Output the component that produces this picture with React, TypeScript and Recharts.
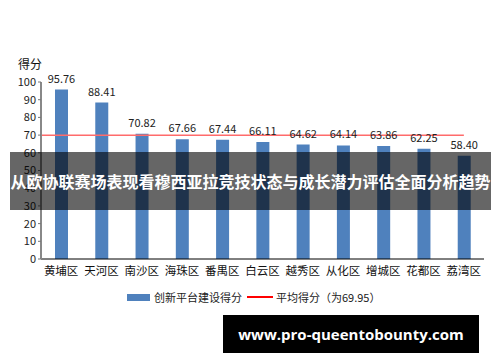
import React from 'react';
import { BarChart, Bar, XAxis, YAxis, ReferenceLine, LabelList } from 'recharts';

const districts = ['黄埔区', '天河区', '南沙区', '海珠区', '番禺区', '白云区', '越秀区', '从化区', '增城区', '花都区', '荔湾区'];
const scores = [95.76, 88.41, 70.82, 67.66, 67.44, 66.11, 64.62, 64.14, 63.86, 62.25, 58.4];
const average = 69.95;
const yTicks = [0, 10, 20, 30, 40, 50, 60, 70, 80, 90, 100];

const font = '"Noto Sans CJK SC", "Noto Sans", sans-serif';
const W = 500;
const H = 362;
const plotLeft = 41;
const plotRight = 16;

export default function App() {
  const data = districts.map((name, i) => ({ name, score: scores[i] }));
  const halfBand = (W - plotLeft - plotRight) / districts.length / 2;

  return (
    <div style={{ position: 'absolute', top: 0, left: 0, width: W, height: H, background: '#fff', fontFamily: font, overflow: 'hidden' }}>
      <BarChart width={W} height={H} data={data} margin={{ top: 82, right: plotRight, left: 0, bottom: 73 }}>
        <XAxis
          dataKey="name"
          tickLine={false}
          axisLine={{ stroke: '#000', strokeWidth: 1 }}
          tick={{ fontSize: 11.5, fill: '#111', fontFamily: font }}
          interval={0}
        />
        <YAxis
          width={plotLeft}
          domain={[0, 100]}
          ticks={yTicks}
          interval={0}
          tickSize={3}
          tickLine={{ stroke: '#777' }}
          axisLine={{ stroke: '#888', strokeWidth: 2 }}
          tick={{ fontSize: 11, fill: '#222', fontFamily: font }}
        />
        <ReferenceLine
          y={average}
          stroke="#ff6b6b"
          strokeWidth={1.5}
          shape={(p: any) => (
            <line x1={p.x1} y1={p.y1} x2={p.x2 - halfBand} y2={p.y2} stroke="#ff6b6b" strokeWidth={1.5} />
          )}
        />
        <Bar dataKey="score" fill="#4f81bd" barSize={13} isAnimationActive={false}>
          <LabelList
            dataKey="score"
            position="top"
            offset={7}
            formatter={(v: any) => Number(v).toFixed(2)}
            style={{ fontSize: 11, fill: '#222', fontFamily: font }}
          />
        </Bar>
        <text x={18} y={69} fontSize={12} fill="#111" fontFamily={font}>得分</text>
      </BarChart>

      {/* legend */}
      <div style={{ position: 'absolute', top: 289, left: 127, display: 'flex', alignItems: 'center', fontSize: 11, color: '#222', whiteSpace: 'nowrap' }}>
        <span style={{ display: 'inline-block', width: 23, height: 7, background: '#4f81bd', marginRight: 4 }} />
        <span>创新平台建设得分</span>
        <span style={{ display: 'inline-block', width: 26, height: 1.5, background: '#ff0000', margin: '0 3px 0 5px' }} />
        <span>平均得分（为69.95）</span>
      </div>

      {/* overlay banner */}
      <div style={{ position: 'absolute', top: 152, left: 10, width: 481, height: 58, background: 'rgba(0,0,0,0.6)', color: '#fff', fontWeight: 700, fontSize: 16, display: 'flex', alignItems: 'center', justifyContent: 'center', whiteSpace: 'nowrap' }}>
        从欧协联赛场表现看穆西亚拉竞技状态与成长潜力评估全面分析趋势
      </div>

      {/* watermark */}
      <div style={{ position: 'absolute', top: 315, left: 223, width: 256, height: 38, background: '#000', color: '#fff', fontWeight: 700, fontSize: 15, fontFamily: '"Open Sans", sans-serif', display: 'flex', alignItems: 'center', justifyContent: 'center' }}>
        www.pro-queentobounty.com
      </div>
    </div>
  );
}
